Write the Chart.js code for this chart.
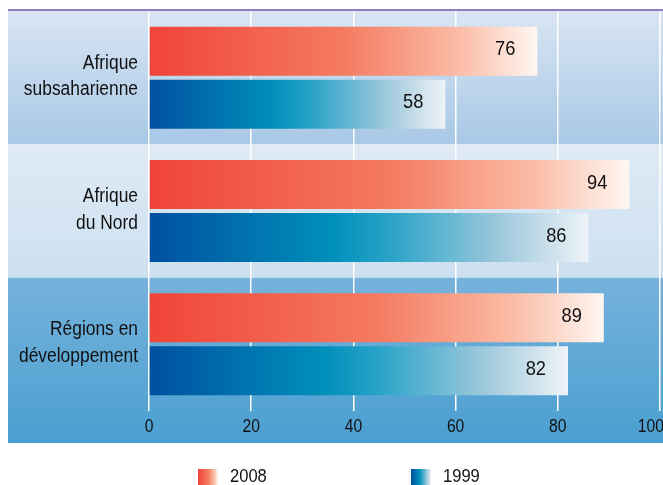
<!DOCTYPE html>
<html>
<head>
<meta charset="utf-8">
<script src="https://cdn.jsdelivr.net/npm/chart.js@4.4.1/dist/chart.umd.min.js"></script>
<style>
  html, body { margin: 0; padding: 0; background: #fff; }
  #wrap { width: 663px; height: 485px; }
</style>
</head>
<body>
<div id="wrap"><canvas id="mycanvas" width="663" height="485"></canvas></div>
<script>
// data
var regions = [["Afrique", "subsaharienne"], ["Afrique", "du Nord"], ["Régions en", "développement"]];
var seriesNames = ["2008", "1999"];
var values2008 = [76, 94, 89];
var values1999 = [58, 86, 82];
var xTicks = [0, 20, 40, 60, 80, 100];

var FONT = "'Liberation Sans', Arial, sans-serif";
var NARROW = 0.87; // the original uses a condensed face, squeeze the text

// bar gradients run from the zero line to the end of each bar
var redStops = [[0, "#f04438"], [0.5, "#f47a60"], [0.8, "#fbbca6"], [1, "#fff7f2"]];
var blueStops = [[0, "#0050a0"], [0.42, "#0090bb"], [0.55, "#2aa3c8"], [0.8, "#9ec9dc"], [1, "#eef3f8"]];

function barGradient(stops) {
  return function (ctx) {
    var chart = ctx.chart;
    if (!chart.chartArea || ctx.raw === undefined) return stops[0][1];
    var x = chart.scales.x;
    var g = chart.ctx.createLinearGradient(x.getPixelForValue(0), 0, x.getPixelForValue(ctx.raw), 0);
    stops.forEach(function (s) { g.addColorStop(s[0], s[1]); });
    return g;
  };
}

function narrowText(c, txt, x, y, size, align) {
  c.save();
  c.translate(x, y);
  c.scale(NARROW, 1);
  c.font = size + "px " + FONT;
  c.fillStyle = "#111";
  c.textAlign = align;
  c.textBaseline = "middle";
  c.fillText(txt, 0, 0);
  c.restore();
}

var bandColors = [["#d9e5f3", "#a8c8e6"], ["#dfeaf5", "#cde0f0"], ["#76b2dc", "#4a9fd0"]];

var backdrop = {
  id: "backdrop",
  beforeDraw: function (chart) {
    var c = chart.ctx, y = chart.scales.y, x = chart.scales.x;
    var left = 8, right = chart.width;
    var step = (y.bottom - y.top) / regions.length;
    c.save();
    for (var i = 0; i < regions.length; i++) {
      var top = y.top + step * i;
      var bot = (i === regions.length - 1) ? x.bottom : top + step;
      var g = c.createLinearGradient(0, top, 0, bot);
      g.addColorStop(0, bandColors[i][0]);
      g.addColorStop(1, bandColors[i][1]);
      c.fillStyle = g;
      c.fillRect(left, top, right - left, bot - top);
    }
    c.fillStyle = "#8e7cc0";
    c.fillRect(left, y.top - 2, right - left, 2);
    c.restore();
  },
  afterDatasetsDraw: function (chart) {
    var c = chart.ctx, x = chart.scales.x, y = chart.scales.y;
    // values at the end of the bars
    chart.data.datasets.forEach(function (ds, di) {
      chart.getDatasetMeta(di).data.forEach(function (bar, i) {
        narrowText(c, String(ds.data[i]), bar.x - 22, bar.y - 1.5, 21, "right");
      });
    });
    // category labels
    regions.forEach(function (lines, i) {
      var cy = y.getPixelForValue(i) - 1.5;
      narrowText(c, lines[0], 138, cy - 13, 20, "right");
      narrowText(c, lines[1], 138, cy + 13.5, 20, "right");
    });
    // x tick labels, the last one pushed back so it stays mostly on the canvas
    xTicks.forEach(function (v, k) {
      var px = x.getPixelForValue(v);
      if (k === xTicks.length - 1) {
        narrowText(c, String(v), chart.width + 1, x.top + 16.5, 18, "right");
      } else {
        narrowText(c, String(v), px, x.top + 16.5, 18, "center");
      }
    });
    // legend
    var items = [[198, redStops], [411, blueStops]];
    items.forEach(function (it, k) {
      var g = c.createLinearGradient(it[0], 0, it[0] + 20, 0);
      it[1].forEach(function (s) { g.addColorStop(s[0], s[1]); });
      c.fillStyle = g;
      c.fillRect(it[0], 469, 20, 16);
      narrowText(c, seriesNames[k], it[0] + 32, 476.5, 19, "left");
    });
  }
};

var ctx = document.getElementById("mycanvas");
var chart = new Chart(ctx, {
  type: "bar",
  data: {
    labels: regions,
    datasets: [
      { label: seriesNames[0], data: values2008, backgroundColor: barGradient(redStops) },
      { label: seriesNames[1], data: values1999, backgroundColor: barGradient(blueStops) }
    ]
  },
  plugins: [backdrop],
  options: {
    indexAxis: "y",
    responsive: false,
    animation: false,
    devicePixelRatio: 1,
    categoryPercentage: 0.795,
    barPercentage: 0.925,
    layout: { padding: { top: 11, right: 3, bottom: 42, left: 0 } },
    plugins: { legend: { display: false }, tooltip: { enabled: false } },
    scales: {
      x: {
        min: 0, max: 100,
        afterBuildTicks: function (s) { s.ticks = xTicks.map(function (v) { return { value: v }; }); },
        afterFit: function (s) { s.height = 32; s.paddingLeft = 0; s.paddingRight = 0; },
        grid: { color: "#ffffff", lineWidth: 1.5, drawTicks: false },
        border: { display: false },
        ticks: { display: false }
      },
      y: {
        afterFit: function (s) { s.width = 149; s.paddingTop = 0; s.paddingBottom = 0; },
        grid: { display: false, drawTicks: false },
        border: { display: false },
        ticks: { display: false }
      }
    }
  }
});
</script>
</body>
</html>
